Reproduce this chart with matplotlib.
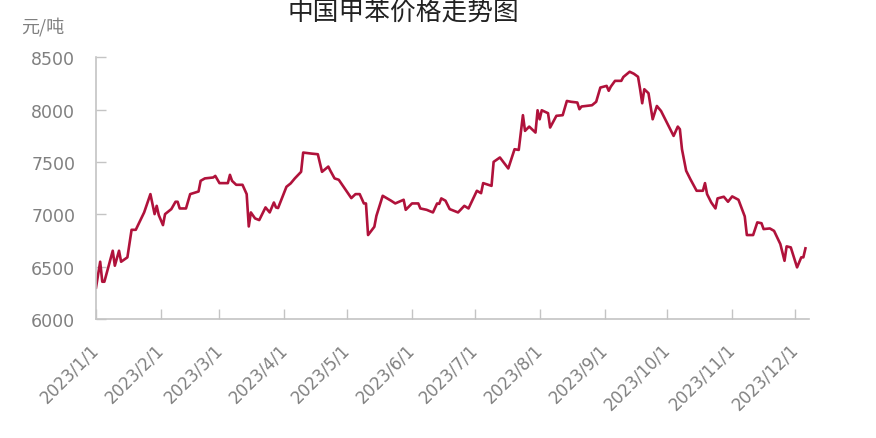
import matplotlib
matplotlib.use("Agg")
import matplotlib.pyplot as plt
import matplotlib.transforms as mtransforms
import pandas as pd

plt.rcParams['font.family'] = ['DejaVu Sans', 'Noto Sans CJK SC']

dates = [
    "2023-01-01", "2023-01-03", "2023-01-04", "2023-01-05", "2023-01-09", "2023-01-10",
    "2023-01-12", "2023-01-13", "2023-01-16", "2023-01-18", "2023-01-20", "2023-01-24",
    "2023-01-27", "2023-01-29", "2023-01-30", "2023-01-31", "2023-02-02", "2023-02-03",
    "2023-02-06", "2023-02-08", "2023-02-09", "2023-02-10", "2023-02-13", "2023-02-15",
    "2023-02-19", "2023-02-20", "2023-02-22", "2023-02-26", "2023-02-27", "2023-03-01",
    "2023-03-05", "2023-03-06", "2023-03-07", "2023-03-09", "2023-03-12", "2023-03-14",
    "2023-03-15", "2023-03-16", "2023-03-18", "2023-03-20", "2023-03-23", "2023-03-25",
    "2023-03-27", "2023-03-28", "2023-03-29", "2023-04-02", "2023-04-04", "2023-04-06",
    "2023-04-09", "2023-04-10", "2023-04-14", "2023-04-17", "2023-04-19", "2023-04-22",
    "2023-04-23", "2023-04-25", "2023-04-27", "2023-05-03", "2023-05-05", "2023-05-07",
    "2023-05-09", "2023-05-10", "2023-05-11", "2023-05-14", "2023-05-15", "2023-05-18",
    "2023-05-22", "2023-05-24", "2023-05-28", "2023-05-29", "2023-06-01", "2023-06-04",
    "2023-06-05", "2023-06-08", "2023-06-11", "2023-06-13", "2023-06-14", "2023-06-15",
    "2023-06-17", "2023-06-19", "2023-06-23", "2023-06-26", "2023-06-28", "2023-07-02",
    "2023-07-04", "2023-07-05", "2023-07-09", "2023-07-10", "2023-07-13", "2023-07-17",
    "2023-07-20", "2023-07-22", "2023-07-24", "2023-07-25", "2023-07-27", "2023-07-30",
    "2023-07-31", "2023-08-01", "2023-08-02", "2023-08-05", "2023-08-06", "2023-08-09",
    "2023-08-12", "2023-08-14", "2023-08-16", "2023-08-19", "2023-08-20", "2023-08-21",
    "2023-08-26", "2023-08-28", "2023-08-30", "2023-09-02", "2023-09-03", "2023-09-04",
    "2023-09-06", "2023-09-09", "2023-09-10", "2023-09-13", "2023-09-15", "2023-09-17",
    "2023-09-18", "2023-09-19", "2023-09-20", "2023-09-22", "2023-09-24", "2023-09-26",
    "2023-09-28", "2023-10-04", "2023-10-06", "2023-10-07", "2023-10-08", "2023-10-10",
    "2023-10-12", "2023-10-15", "2023-10-18", "2023-10-19", "2023-10-20", "2023-10-22",
    "2023-10-24", "2023-10-25", "2023-10-28", "2023-10-30", "2023-11-01", "2023-11-04",
    "2023-11-07", "2023-11-08", "2023-11-11", "2023-11-13", "2023-11-15", "2023-11-16",
    "2023-11-19", "2023-11-21", "2023-11-24", "2023-11-26", "2023-11-27", "2023-11-29",
    "2023-12-02", "2023-12-04", "2023-12-05", "2023-12-06",
]

prices = [
    6300, 6547, 6356, 6356, 6652, 6509,
    6652, 6547, 6589, 6852, 6852, 7018,
    7193, 7002, 7081, 6992, 6897, 7002,
    7050, 7120, 7120, 7056, 7056, 7193,
    7218, 7320, 7343, 7352, 7367, 7298,
    7298, 7377, 7320, 7282, 7282, 7193,
    6884, 7018, 6961, 6945, 7066, 7018,
    7113, 7066, 7060, 7263, 7295, 7343,
    7406, 7590, 7580, 7574, 7406, 7456,
    7416, 7343, 7330, 7155, 7193, 7193,
    7104, 7104, 6802, 6881, 6986, 7177,
    7130, 7104, 7139, 7043, 7104, 7104,
    7056, 7043, 7018, 7104, 7100, 7152,
    7130, 7050, 7018, 7081, 7056, 7225,
    7202, 7298, 7272, 7501, 7543, 7438,
    7622, 7615, 7947, 7797, 7838, 7781,
    7994, 7908, 7994, 7966, 7829, 7941,
    7947, 8083, 8075, 8068, 8004, 8030,
    8042, 8075, 8211, 8227, 8180, 8220,
    8275, 8275, 8312, 8362, 8343, 8314,
    8195, 8061, 8195, 8157, 7908, 8035,
    7987, 7749, 7838, 7813, 7622, 7416,
    7336, 7225, 7225, 7298, 7193, 7113,
    7056, 7152, 7168, 7120, 7171, 7139,
    6980, 6802, 6802, 6923, 6915, 6859,
    6865, 6842, 6716, 6556, 6694, 6684,
    6493, 6589, 6589, 6675,
]

tick_dates = ["2023-01-01", "2023-02-01", "2023-03-01", "2023-04-01", "2023-05-01",
              "2023-06-01", "2023-07-01", "2023-08-01", "2023-09-01", "2023-10-01",
              "2023-11-01", "2023-12-01"]
tick_labels = ["2023/1/1", "2023/2/1", "2023/3/1", "2023/4/1", "2023/5/1", "2023/6/1",
               "2023/7/1", "2023/8/1", "2023/9/1", "2023/10/1", "2023/11/1", "2023/12/1"]
y_ticks = [6000, 6500, 7000, 7500, 8000, 8500]

title = "中国甲苯价格走势图"
unit = "元/吨"

x = pd.to_datetime(dates)
fig = plt.figure(figsize=(8.76, 4.39), dpi=100)
ax = fig.add_axes([96 / 876, 1 - 320 / 439, (809 - 96) / 876, (320 - 58.3) / 439])

ax.plot(x, prices, color="#B0123B", linewidth=1.9, solid_joinstyle="round")

ax.set_ylim(6000, 8500)
ax.set_xlim(pd.Timestamp("2023-01-01"), pd.Timestamp("2023-01-01") + pd.Timedelta(days=340.7))

spine_c = "#C4C4C4"
for s in ["top", "right"]:
    ax.spines[s].set_visible(False)
for s in ["left", "bottom"]:
    ax.spines[s].set_color(spine_c)
    ax.spines[s].set_linewidth(1.2)

ax.set_yticks(y_ticks)
ax.set_yticklabels([str(v) for v in y_ticks])
ax.set_xticks(pd.to_datetime(tick_dates))
ax.set_xticklabels(tick_labels)

ax.tick_params(axis="y", direction="in", length=7, width=1.0, color=spine_c,
               labelcolor="#808080", labelsize=12.5, pad=15)
ax.tick_params(axis="x", direction="in", length=7, width=1.0, color=spine_c,
               labelcolor="#808080", labelsize=12, pad=15)

offset = mtransforms.ScaledTranslation(-6 / 100, 0, fig.dpi_scale_trans)
for lab in ax.get_xticklabels():
    lab.set_rotation(45)
    lab.set_ha("right")
    lab.set_va("top")
    lab.set_rotation_mode("anchor")
    lab.set_transform(lab.get_transform() + offset)

fig.text(403 / 876, 1 - 21 / 439, title, ha="center", va="baseline", fontsize=18.5,
         color="#222222", family=["Noto Sans CJK SC", "DejaVu Sans"])
fig.text(43 / 876, 1 - 27 / 439, unit, ha="center", va="center", fontsize=13,
         color="#808080", family=["Noto Sans CJK SC", "DejaVu Sans"])

fig.savefig("out.png", dpi=100, facecolor="white")
